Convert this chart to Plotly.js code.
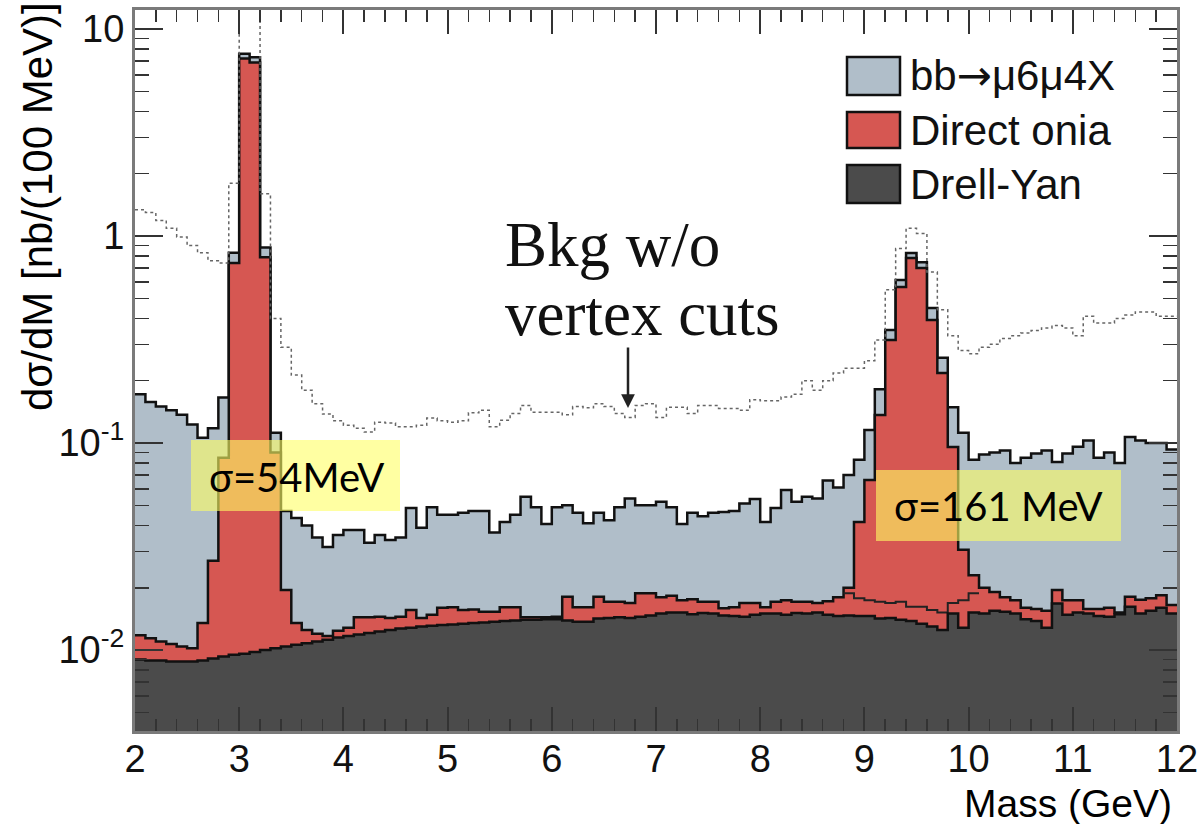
<!DOCTYPE html>
<html><head><meta charset="utf-8">
<script src="https://cdn.plot.ly/plotly-3.0.1.min.js"></script>
<style>html,body{margin:0;padding:0;background:#fff}#chart{width:1202px;height:824px}</style>
</head><body><div id="chart"></div>
<script>
// Binning: 100 MeV bins from 2 to 12 GeV
const massMin = 2.0;
const binWidth = 0.1;

// Stacked histogram levels (nb / 100 MeV), one value per bin
const drellYan = [0.0090,0.0089,0.0089,0.0088,0.0088,0.0088,0.0089,0.0091,0.0093,0.0095,
 0.0096,0.0098,0.0100,0.0102,0.0104,0.0106,0.0108,0.0110,0.0112,0.0115,
 0.0117,0.0119,0.0121,0.0123,0.0125,0.0127,0.0128,0.0130,0.0131,0.0132,
 0.0133,0.0134,0.0135,0.0136,0.0137,0.0138,0.0139,0.0140,0.0140,0.0141,
 0.0141,0.0139,0.0137,0.0137,0.0142,0.0143,0.0144,0.0143,0.0145,0.0147,
 0.0150,0.0152,0.0152,0.0149,0.0151,0.0150,0.0147,0.0146,0.0145,0.0148,
 0.0150,0.0150,0.0148,0.0151,0.0150,0.0152,0.0148,0.0146,0.0147,0.0146,
 0.0146,0.0142,0.0143,0.0140,0.0138,0.0134,0.0130,0.0125,0.0150,0.0128,
 0.0152,0.0150,0.0155,0.0153,0.0150,0.0141,0.0138,0.0128,0.0168,0.0148,
 0.0152,0.0150,0.0146,0.0145,0.0149,0.0162,0.0150,0.0155,0.0160,0.0150];

const directOniaStack = [0.0118,0.0114,0.0110,0.0107,0.0104,0.0102,0.0135,0.0270,0.085,0.74,
 7.2,6.9,0.79,0.090,0.0195,0.0135,0.0125,0.0120,0.0117,0.0124,
 0.0128,0.0144,0.0144,0.0145,0.0143,0.0145,0.0156,0.0143,0.0148,0.0160,
 0.0161,0.0156,0.0157,0.0153,0.0153,0.0161,0.0161,0.0144,0.0144,0.0144,
 0.0145,0.0181,0.0161,0.0161,0.0181,0.0171,0.0171,0.0169,0.0188,0.0188,
 0.0180,0.0183,0.0174,0.0176,0.0171,0.0171,0.0159,0.0161,0.0169,0.0169,
 0.0161,0.0171,0.0174,0.0171,0.0171,0.0169,0.0172,0.0180,0.0200,0.0415,
 0.0663,0.1365,0.315,0.567,0.783,0.700,0.393,0.218,0.0957,0.0305,
 0.0230,0.0200,0.0191,0.0180,0.0174,0.0160,0.0158,0.0155,0.0195,0.0174,
 0.0174,0.0158,0.0158,0.0160,0.0152,0.0181,0.0175,0.0178,0.0184,0.0165];

const bbStack = [0.172,0.158,0.150,0.144,0.137,0.123,0.106,0.118,0.166,0.83,
 7.6,7.3,0.88,0.112,0.047,0.0434,0.040,0.035,0.0315,0.036,
 0.038,0.038,0.033,0.036,0.034,0.035,0.0485,0.039,0.049,0.045,
 0.045,0.046,0.047,0.047,0.037,0.0415,0.045,0.055,0.049,0.0406,
 0.049,0.050,0.046,0.041,0.046,0.0424,0.049,0.054,0.050,0.050,
 0.052,0.049,0.0406,0.046,0.0443,0.046,0.0465,0.047,0.051,0.0536,
 0.0415,0.0486,0.0593,0.052,0.055,0.054,0.066,0.061,0.070,0.083,
 0.1155,0.182,0.352,0.613,0.828,0.748,0.449,0.258,0.149,0.112,
 0.083,0.088,0.090,0.092,0.080,0.085,0.089,0.092,0.081,0.089,
 0.096,0.103,0.085,0.090,0.080,0.107,0.103,0.100,0.100,0.093];

// Non-resonant level visible as a line inside the Upsilon peak (bins from 8.8 GeV)
const underUpsilonStartMass = 8.8;
const underUpsilon = [0.0188,0.0178,0.0174,0.0171,0.0169,0.0171,0.0162,0.0162,0.0156,0.0152,0.0169,0.0174,0.0188];

const bkgNoVertexCuts = [1.34,1.30,1.19,1.09,0.99,0.90,0.83,0.76,0.74,1.8,
 20,20,1.6,0.40,0.29,0.213,0.18,0.155,0.138,0.128,
 0.122,0.118,0.113,0.126,0.125,0.120,0.120,0.122,0.132,0.128,
 0.126,0.128,0.140,0.144,0.120,0.129,0.139,0.152,0.141,0.141,
 0.141,0.137,0.150,0.148,0.155,0.150,0.139,0.133,0.152,0.155,
 0.133,0.149,0.149,0.139,0.152,0.152,0.147,0.147,0.144,0.162,
 0.160,0.160,0.167,0.172,0.200,0.180,0.200,0.218,0.230,0.230,
 0.250,0.315,0.550,0.870,1.09,1.03,0.670,0.440,0.330,0.280,
 0.270,0.290,0.300,0.320,0.330,0.340,0.350,0.360,0.370,0.360,
 0.330,0.410,0.380,0.380,0.400,0.415,0.430,0.430,0.410,0.410];

const legendLabels = ['bb<span style="font-family:DejaVu Sans">\u2192</span>\u03bc6\u03bc4X', 'Direct onia', 'Drell-Yan'];
const yTickVals = [0.01, 0.1, 1, 10];
const yTickText = ['10<sup>-2</sup>', '10<sup>-1</sup>', '1', '10'];

const colBB = '#b0bec9', colOnia = '#d65752', colDY = '#4b4b4b';

function edges(start, n) { const e = []; for (let i = 0; i <= n; i++) e.push(+(start + i * binWidth).toFixed(3)); return e; }
function stepY(v) { return v.concat([v[v.length - 1]]); }
const xe = edges(massMin, drellYan.length);

function histTrace(vals, fill) {
  return { x: xe, y: stepY(vals), type: 'scatter', mode: 'lines',
    line: { shape: 'hv', color: '#111', width: 2.5 }, fill: 'tozeroy', fillcolor: fill,
    hoverinfo: 'skip', showlegend: false };
}

const traces = [
  histTrace(bbStack, colBB),
  histTrace(directOniaStack, colOnia),
  { x: edges(underUpsilonStartMass, underUpsilon.length), y: stepY(underUpsilon), type: 'scatter', mode: 'lines',
    line: { shape: 'hv', color: '#222', width: 2 }, hoverinfo: 'skip', showlegend: false },
  histTrace(drellYan, colDY),
  { x: xe, y: stepY(bkgNoVertexCuts), type: 'scatter', mode: 'lines',
    line: { shape: 'hv', color: '#666', width: 1.5, dash: 'dot' }, hoverinfo: 'skip', showlegend: false }
];

const minorY = [];
for (let k = -3; k <= 1; k++) for (let d = 2; d <= 9; d++) minorY.push(d * Math.pow(10, k));

// pixel -> paper helpers for the fixed plot area (135..1177 x 10..731)
const px = p => (p - 135) / 1042;
const py = p => (731 - p) / 721;

const boxFill = 'rgba(255,255,100,0.6)';
const legendCols = [colBB, colOnia, colDY];
const legendRows = [[57, 95], [112, 148], [165, 203]];

const shapes = [
  { type: 'rect', xref: 'paper', yref: 'paper', x0: px(191), x1: px(400), y0: py(511), y1: py(440), fillcolor: boxFill, line: { width: 0 } },
  { type: 'rect', xref: 'paper', yref: 'paper', x0: px(876), x1: px(1121), y0: py(541), y1: py(470), fillcolor: boxFill, line: { width: 0 } }
];
legendRows.forEach((r, i) => shapes.push({ type: 'rect', xref: 'paper', yref: 'paper',
  x0: px(847), x1: px(900), y0: py(r[1]), y1: py(r[0]), fillcolor: legendCols[i], line: { color: '#111', width: 2.5 } }));

const annotations = [
  { text: 'd\u03c3/dM [nb/(100 MeV)]', xref: 'paper', yref: 'paper', x: px(37), y: py(207), textangle: -90,
    xanchor: 'center', yanchor: 'middle',
    showarrow: false, font: { size: 42, family: 'Liberation Sans, Arial, sans-serif', color: '#000' } },
  { text: 'Mass (GeV)', xref: 'paper', yref: 'paper', x: px(1174), y: py(803), xanchor: 'right', yanchor: 'middle',
    showarrow: false, font: { size: 39, family: 'Liberation Sans, Arial, sans-serif', color: '#000' } },
  { text: 'Bkg w/o', xref: 'paper', yref: 'paper', x: px(503), y: py(245), xanchor: 'left', yanchor: 'middle',
    showarrow: false, font: { size: 63, family: 'Liberation Serif, Times New Roman, serif', color: '#111' } },
  { text: 'vertex cuts', xref: 'paper', yref: 'paper', x: px(503), y: py(314), xanchor: 'left', yanchor: 'middle',
    showarrow: false, font: { size: 63, family: 'Liberation Serif, Times New Roman, serif', color: '#111' } },
  { text: '', xref: 'paper', yref: 'paper', x: px(628), y: py(408), ax: 0, ay: -62, showarrow: true,
    arrowhead: 2, arrowsize: 1.1, arrowwidth: 2.5, arrowcolor: '#222', standoff: 0 },
  { text: '\u03c3=54MeV', xref: 'paper', yref: 'paper', x: px(296), y: py(477), xanchor: 'center', yanchor: 'middle',
    showarrow: false, font: { size: 40, family: 'Lato, sans-serif', color: '#000' } },
  { text: '\u03c3=161 MeV', xref: 'paper', yref: 'paper', x: px(998), y: py(506), xanchor: 'center', yanchor: 'middle',
    showarrow: false, font: { size: 40, family: 'Lato, sans-serif', color: '#000' } }
];
legendRows.forEach((r, i) => annotations.push({ text: legendLabels[i], xref: 'paper', yref: 'paper',
  x: px(908), y: py((r[0] + r[1]) / 2), xanchor: 'left', yanchor: 'middle', showarrow: false,
  font: { size: 42, family: 'Liberation Sans, Arial, sans-serif', color: '#111' } }));

const layout = {
  width: 1202, height: 824,
  margin: { l: 135, r: 25, t: 10, b: 93 },
  paper_bgcolor: '#fff', plot_bgcolor: '#fff',
  showlegend: false,
  font: { family: 'Liberation Sans, Arial, sans-serif', color: '#000' },
  xaxis: { range: [2, 12], tick0: 2, dtick: 1, ticks: 'inside', ticklen: 24, tickwidth: 2, tickcolor: '#333',
    minor: { dtick: 0.2, ticks: 'inside', ticklen: 12, tickwidth: 1.5, tickcolor: '#333' },
    showline: true, linecolor: '#7a7a7a', linewidth: 3, mirror: 'ticks', showgrid: false, zeroline: false,
    tickfont: { size: 38, color: '#111' }, ticklabelstandoff: -8, automargin: false },
  yaxis: { type: 'log', range: [-2.391, 1.092], tickmode: 'array', tickvals: yTickVals, ticktext: yTickText,
    ticks: 'inside', ticklen: 28, tickwidth: 2, tickcolor: '#333',
    minor: { tickmode: 'array', tickvals: minorY, ticks: 'inside', ticklen: 14, tickwidth: 1.5, tickcolor: '#333' },
    showline: true, linecolor: '#7a7a7a', linewidth: 3, mirror: 'ticks', showgrid: false, zeroline: false,
    tickfont: { size: 38, color: '#111' }, automargin: false },
  shapes: shapes,
  annotations: annotations
};

Plotly.newPlot('chart', traces, layout, { staticPlot: true });
</script>
</body></html>
